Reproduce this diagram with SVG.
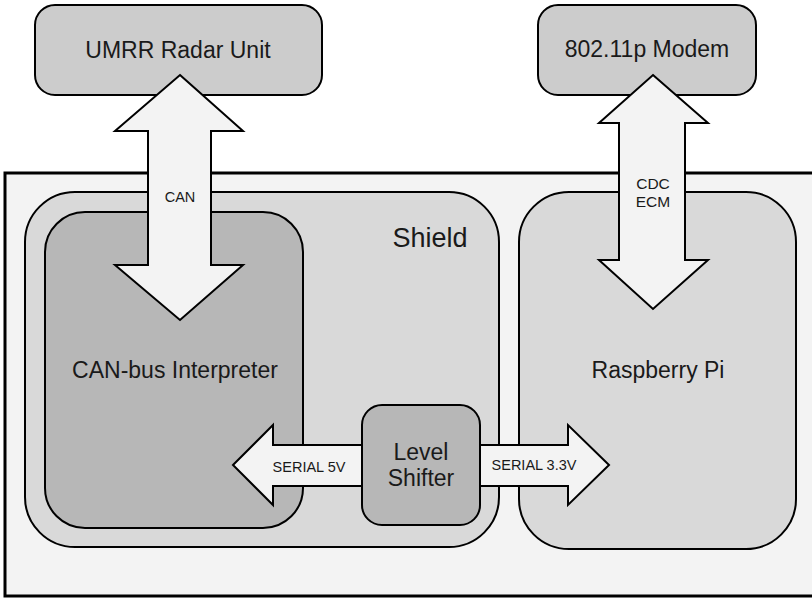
<svg xmlns="http://www.w3.org/2000/svg" width="812" height="599" viewBox="0 0 812 599">
<style>
.box{stroke:#000;stroke-width:2}
.arr{fill:#f3f3f3;stroke:#000;stroke-width:2;stroke-linejoin:miter}
text{font-family:"Liberation Sans",Arial,sans-serif;fill:#1a1a1a;text-anchor:middle}
.big{font-size:23px}
.sm{font-size:14.5px}
</style>
<rect width="812" height="599" fill="#ffffff"/>
<g id="frame"><rect x="5" y="173" width="830" height="423" fill="#f3f3f3" stroke="#000" stroke-width="3"/></g>
<g id="shield"><rect class="box" x="25" y="192" width="474" height="355" rx="50" fill="#d9d9d9"/><text x="430" y="247" style="font-size:27px">Shield</text></g>
<g id="canbus"><rect class="box" x="45" y="212" width="258" height="316" rx="40" fill="#b7b7b7"/><text class="big" x="175" y="378">CAN-bus Interpreter</text></g>
<g id="rpi"><rect class="box" x="519" y="192" width="277" height="357" rx="50" fill="#d9d9d9"/><text class="big" x="658" y="378">Raspberry Pi</text></g>
<g id="radar"><rect class="box" x="35" y="5" width="287" height="90" rx="20" fill="#cccccc"/><text class="big" x="178" y="58">UMRR Radar Unit</text></g>
<g id="modem"><rect class="box" x="538" y="5" width="218" height="90" rx="20" fill="#cccccc"/><text class="big" x="647" y="57">802.11p Modem</text></g>
<g id="connectors">
<polygon class="arr" points="180,75 243,131 211,131 211,265 243,265 180,320 115,265 148,265 148,131 115,131"/>
<text class="sm" x="180" y="202">CAN</text>
<polygon class="arr" points="653,75 708,123 685,123 685,260 708,260 653,309 599,260 619,260 619,123 599,123"/>
<text x="653" y="189" style="font-size:15.5px">CDC</text>
<text x="653" y="207" style="font-size:15.5px">ECM</text>
<polygon class="arr" points="233,465 273,425 273,445 362,445 362,486 273,486 273,505"/>
<text class="sm" x="309" y="472">SERIAL 5V</text>
<polygon class="arr" points="609,465 568,425 568,445 480,445 480,486 568,486 568,505"/>
<text class="sm" x="534" y="470">SERIAL 3.3V</text>
</g>
<g id="levelshifter"><rect class="box" x="362" y="405" width="118" height="120" rx="20" fill="#b7b7b7"/><text class="big" x="421" y="460">Level</text><text class="big" x="421" y="486">Shifter</text></g>
</svg>
